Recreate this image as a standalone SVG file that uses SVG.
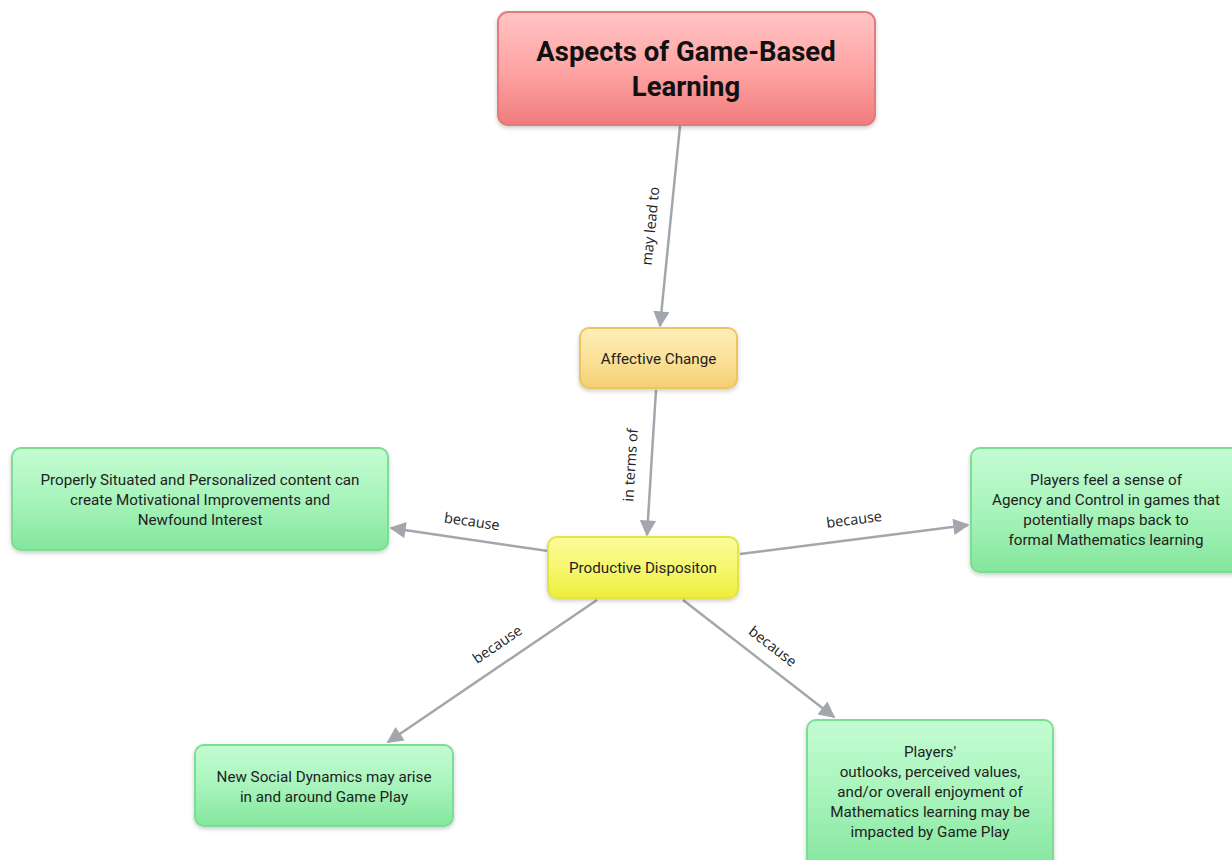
<svg xmlns="http://www.w3.org/2000/svg" width="1232" height="860" viewBox="0 0 1232 860">
<style>
.node-text{font-family:Roboto,"Liberation Sans",sans-serif;font-size:15.2px;fill:#222;text-anchor:middle;dominant-baseline:central}
.title-text{font-family:Roboto,"Liberation Sans",sans-serif;font-size:27.5px;font-weight:bold;fill:#111;text-anchor:middle;dominant-baseline:central}
.lbl{font-family:"Open Sans","DejaVu Sans",sans-serif;font-size:14.5px;fill:#222;text-anchor:middle;dominant-baseline:central}
.conn{stroke:#a4a6ae;stroke-width:2.5;fill:none;marker-end:url(#arr)}
</style>
<defs>
<marker id="arr" viewBox="0 0 10 10" refX="9" refY="5" markerWidth="7.5" markerHeight="6.5" orient="auto" markerUnits="strokeWidth"><path d="M0,0 L10,5 L0,10 z" fill="#a4a6ae"/></marker>
<linearGradient id="gRed" x1="0" y1="0" x2="0" y2="1"><stop offset="0" stop-color="#ffc4c4"/><stop offset="0.5" stop-color="#ffa5a5"/><stop offset="1" stop-color="#f07c7c"/></linearGradient>
<linearGradient id="gOr" x1="0" y1="0" x2="0" y2="1"><stop offset="0" stop-color="#fdedb8"/><stop offset="0.5" stop-color="#fbe29a"/><stop offset="1" stop-color="#f3cf72"/></linearGradient>
<linearGradient id="gYel" x1="0" y1="0" x2="0" y2="1"><stop offset="0" stop-color="#fbfb9a"/><stop offset="0.5" stop-color="#f7f770"/><stop offset="1" stop-color="#eded3a"/></linearGradient>
<linearGradient id="gGr" x1="0" y1="0" x2="0" y2="1"><stop offset="0" stop-color="#c4fcd2"/><stop offset="0.5" stop-color="#a8f4bc"/><stop offset="1" stop-color="#84e69c"/></linearGradient>
<filter id="sh" x="-10%" y="-10%" width="120%" height="130%"><feDropShadow dx="0" dy="2" stdDeviation="2" flood-color="#000" flood-opacity="0.2"/></filter>
</defs>
<rect width="1232" height="860" fill="#ffffff"/>
<g id="connectors">
<line class="conn" x1="680" y1="126" x2="660" y2="326"/>
<text class="lbl" transform="translate(650,226) rotate(-84.3)">may lead to</text>
<line class="conn" x1="656" y1="390" x2="647" y2="535"/>
<text class="lbl" transform="translate(630,465) rotate(-86.5)">in terms of</text>
<line class="conn" x1="548" y1="551" x2="391" y2="528"/>
<text class="lbl" transform="translate(472,521) rotate(8.3)">because</text>
<line class="conn" x1="740" y1="554" x2="968" y2="525"/>
<text class="lbl" transform="translate(854,519) rotate(-7.2)">because</text>
<line class="conn" x1="597" y1="600" x2="388" y2="742"/>
<text class="lbl" transform="translate(497,644) rotate(-34)">because</text>
<line class="conn" x1="683" y1="600" x2="834" y2="717"/>
<text class="lbl" transform="translate(773,646) rotate(37.8)">because</text>
</g>
<g id="n-title">
<rect x="498" y="12" width="377" height="113" rx="10" fill="url(#gRed)" stroke="#e47a7a" stroke-width="2" filter="url(#sh)"/>
<text class="title-text" x="686" y="51">Aspects of Game-Based</text>
<text class="title-text" x="686" y="86">Learning</text>
</g>
<g id="n-affective">
<rect x="580" y="328" width="157" height="60" rx="9" fill="url(#gOr)" stroke="#ecc564" stroke-width="2" filter="url(#sh)"/>
<text class="node-text" x="658.5" y="359">Affective Change</text>
</g>
<g id="n-productive">
<rect x="548" y="537" width="190" height="61" rx="9" fill="url(#gYel)" stroke="#e2e24a" stroke-width="2" filter="url(#sh)"/>
<text class="node-text" x="643" y="568">Productive Dispositon</text>
</g>
<g id="n-left">
<rect x="12" y="448" width="376" height="102" rx="9" fill="url(#gGr)" stroke="#7cde94" stroke-width="2" filter="url(#sh)"/>
<text class="node-text" x="200" y="480">Properly Situated and Personalized content can</text>
<text class="node-text" x="200" y="500">create Motivational Improvements and</text>
<text class="node-text" x="200" y="520">Newfound Interest</text>
</g>
<g id="n-right">
<rect x="971" y="448" width="270" height="124" rx="9" fill="url(#gGr)" stroke="#7cde94" stroke-width="2" filter="url(#sh)"/>
<text class="node-text" x="1106" y="480">Players feel a sense of</text>
<text class="node-text" x="1106" y="500">Agency and Control in games that</text>
<text class="node-text" x="1106" y="520">potentially maps back to</text>
<text class="node-text" x="1106" y="540">formal Mathematics learning</text>
</g>
<g id="n-social">
<rect x="195" y="745" width="258" height="81" rx="9" fill="url(#gGr)" stroke="#7cde94" stroke-width="2" filter="url(#sh)"/>
<text class="node-text" x="324" y="777">New Social Dynamics may arise</text>
<text class="node-text" x="324" y="797">in and around Game Play</text>
</g>
<g id="n-outlooks">
<rect x="807" y="720" width="246" height="150" rx="9" fill="url(#gGr)" stroke="#7cde94" stroke-width="2" filter="url(#sh)"/>
<text class="node-text" x="930" y="752">Players'</text>
<text class="node-text" x="930" y="772">outlooks, perceived values,</text>
<text class="node-text" x="930" y="792">and/or overall enjoyment of</text>
<text class="node-text" x="930" y="812">Mathematics learning may be</text>
<text class="node-text" x="930" y="832">impacted by Game Play</text>
</g>
</svg>
